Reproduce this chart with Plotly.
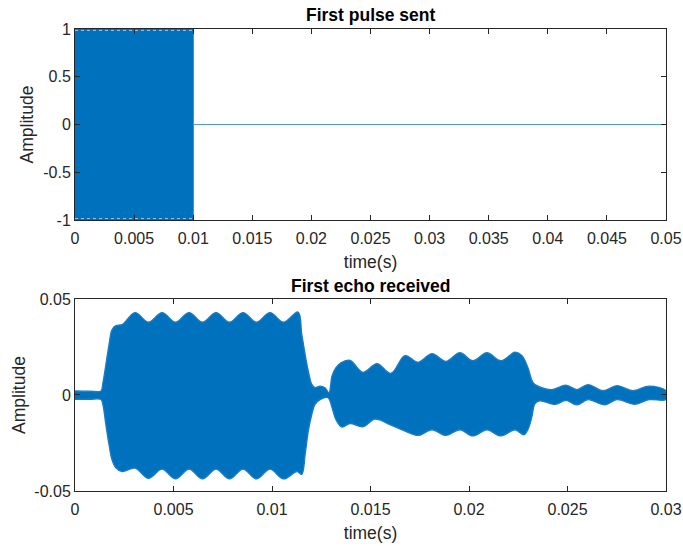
import plotly.graph_objects as go

# ---- transmitted pulse ----
pulse_start = 0.0          # s
pulse_end = 0.01           # s
pulse_amplitude = 1.0
record_length_sent = 0.05  # s

# ---- received echo: envelope of the dense carrier (s, amplitude) ----
echo_t_upper = [0.0, 0.00076, 0.00132, 0.00142, 0.00157, 0.00173, 0.00188, 0.00208, 0.00239,
                0.00305, 0.00373, 0.00442, 0.00510, 0.00579, 0.00647, 0.00716, 0.00784,
                0.00853, 0.00921, 0.00990, 0.01058, 0.01132, 0.01151, 0.01168, 0.01184,
                0.01202, 0.01218, 0.01244, 0.01269, 0.01289, 0.01305, 0.01325, 0.01350,
                0.01396, 0.01462, 0.01533, 0.01604, 0.01675, 0.01741, 0.01812, 0.01883,
                0.01954, 0.02020, 0.02091, 0.02162, 0.02234, 0.02269, 0.02299, 0.02325,
                0.02350, 0.02421, 0.02492, 0.02548, 0.02604, 0.02680, 0.02751, 0.02832,
                0.02914, 0.03]
echo_upper = [0.0021, 0.0020, 0.0021, 0.0064, 0.0158, 0.0262, 0.0340, 0.0361, 0.0366,
              0.0429, 0.0379, 0.0429, 0.0379, 0.0429, 0.0379, 0.0429, 0.0379,
              0.0429, 0.0379, 0.0429, 0.0379, 0.0432, 0.0316, 0.0211, 0.0125,
              0.0055, 0.0038, 0.0046, 0.0038, 0.0012, 0.0099, 0.0142, 0.0168,
              0.0180, 0.0118, 0.0163, 0.0113, 0.0205, 0.0170, 0.0215, 0.0175,
              0.0220, 0.0178, 0.0220, 0.0178, 0.0223, 0.0205, 0.0142, 0.0064,
              0.0046, 0.0028, 0.0051, 0.0028, 0.0054, 0.0022, 0.0048, 0.0022,
              0.0046, 0.0022]

echo_t_lower = [0.0, 0.00076, 0.00132, 0.00142, 0.00157, 0.00173, 0.00188, 0.00208, 0.00239,
                0.00305, 0.00373, 0.00442, 0.00510, 0.00579, 0.00647, 0.00716, 0.00784,
                0.00853, 0.00921, 0.00990, 0.01058, 0.01127, 0.01151, 0.01168, 0.01184,
                0.01202, 0.01218, 0.01244, 0.01284, 0.01305, 0.01325, 0.01355, 0.01396,
                0.01462, 0.01523, 0.01599, 0.01670, 0.01741, 0.01812, 0.01883, 0.01954,
                0.02020, 0.02091, 0.02162, 0.02234, 0.02279, 0.02299, 0.02318, 0.02335,
                0.02360, 0.02437, 0.02492, 0.02548, 0.02604, 0.02690, 0.02751, 0.02842,
                0.02914, 0.03]
echo_lower = [-0.0023, -0.0022, -0.0023, -0.0051, -0.0155, -0.0259, -0.0337, -0.0379, -0.0399,
              -0.0381, -0.0434, -0.0386, -0.0437, -0.0386, -0.0437, -0.0386, -0.0437,
              -0.0386, -0.0437, -0.0386, -0.0437, -0.0399, -0.0413, -0.0309, -0.0188,
              -0.0101, -0.0049, -0.0024, -0.0014, -0.0066, -0.0129, -0.0167, -0.0149,
              -0.0165, -0.0125, -0.0154, -0.0185, -0.0210, -0.0181, -0.0210, -0.0181,
              -0.0213, -0.0181, -0.0213, -0.0181, -0.0207, -0.0180, -0.0118, -0.0045,
              -0.0030, -0.0049, -0.0028, -0.0051, -0.0024, -0.0051, -0.0024, -0.0048,
              -0.0024, -0.0023]
record_length_echo = 0.03  # s

sent_xticks = [0, 0.005, 0.01, 0.015, 0.02, 0.025, 0.03, 0.035, 0.04, 0.045, 0.05]
sent_yticks = [-1, -0.5, 0, 0.5, 1]
echo_xticks = [0, 0.005, 0.01, 0.015, 0.02, 0.025, 0.03]
echo_yticks = [-0.05, 0, 0.05]

BLUE = "#0072BD"
INK = "#262626"
FONT = "Liberation Sans, Arial, Helvetica, sans-serif"

fig = go.Figure()

# pulse: solid carrier block, its crest rows, then the silent tail
fig.add_trace(go.Scatter(
    x=[pulse_start, pulse_end, pulse_end, pulse_start, pulse_start],
    y=[pulse_amplitude, pulse_amplitude, -pulse_amplitude, -pulse_amplitude, pulse_amplitude],
    fill="toself", fillcolor=BLUE, mode="lines", line=dict(color=BLUE, width=1),
    xaxis="x", yaxis="y", hoverinfo="skip", showlegend=False))
for sign in (1, -1):
    fig.add_trace(go.Scatter(
        x=[pulse_start, pulse_end], y=[sign * pulse_amplitude * 0.985] * 2,
        mode="lines", line=dict(color="#9cc8ec", width=1, dash="dot"),
        xaxis="x", yaxis="y", hoverinfo="skip", showlegend=False))
fig.add_trace(go.Scatter(
    x=[pulse_end, record_length_sent], y=[0, 0],
    mode="lines", line=dict(color="#4f9cc8", width=1),
    xaxis="x", yaxis="y", hoverinfo="skip", showlegend=False))

# echo: band between upper and lower envelopes
fig.add_trace(go.Scatter(
    x=echo_t_upper + echo_t_lower[::-1],
    y=echo_upper + echo_lower[::-1],
    fill="toself", fillcolor=BLUE, mode="lines",
    line=dict(color="#1a7cc4", width=1.4, shape="spline", smoothing=1.0),
    xaxis="x2", yaxis="y2", hoverinfo="skip", showlegend=False))

axis_common = dict(
    showline=True, mirror="allticks", linecolor=INK, linewidth=1,
    ticks="inside", ticklen=5, tickwidth=1, tickcolor=INK,
    showgrid=False, zeroline=False,
    tickfont=dict(family=FONT, size=16, color=INK),
    automargin=False,
)
x_common = dict(axis_common, ticklabelstandoff=4)
title_font = dict(family=FONT, size=17.5, color=INK)

fig.update_layout(
    width=683, height=546,
    margin=dict(l=75, r=17, t=29, b=55),
    paper_bgcolor="white", plot_bgcolor="white",
    font=dict(family=FONT, color=INK),
    xaxis=dict(x_common, domain=[0, 1], anchor="y", range=[0, record_length_sent],
               tickvals=sent_xticks, ticktext=[f"{v:g}" for v in sent_xticks],
               title=dict(text="time(s)", font=title_font, standoff=9)),
    yaxis=dict(axis_common, domain=[0.5866, 1], anchor="x", range=[-1, 1],
               tickvals=sent_yticks, ticktext=[f"{v:g}" for v in sent_yticks],
               title=dict(text="Amplitude", font=title_font, standoff=5)),
    xaxis2=dict(x_common, domain=[0, 1], anchor="y2", range=[0, record_length_echo],
                tickvals=echo_xticks, ticktext=[f"{v:g}" for v in echo_xticks],
                title=dict(text="time(s)", font=title_font, standoff=9)),
    yaxis2=dict(axis_common, domain=[0, 0.4156], anchor="x2", range=[-0.05, 0.05],
                tickvals=echo_yticks, ticktext=[f"{v:g}" for v in echo_yticks],
                title=dict(text="Amplitude", font=title_font, standoff=4)),
    annotations=[
        dict(text="<b>First pulse sent</b>", x=0.5, y=1, xref="x domain", yref="y domain",
             xanchor="center", yanchor="middle", yshift=14, showarrow=False,
             font=dict(family=FONT, size=17.5, color="black")),
        dict(text="<b>First echo received</b>", x=0.5, y=1, xref="x2 domain", yref="y2 domain",
             xanchor="center", yanchor="middle", yshift=13, showarrow=False,
             font=dict(family=FONT, size=17.5, color="black")),
    ],
)

fig.write_html("out.html")
